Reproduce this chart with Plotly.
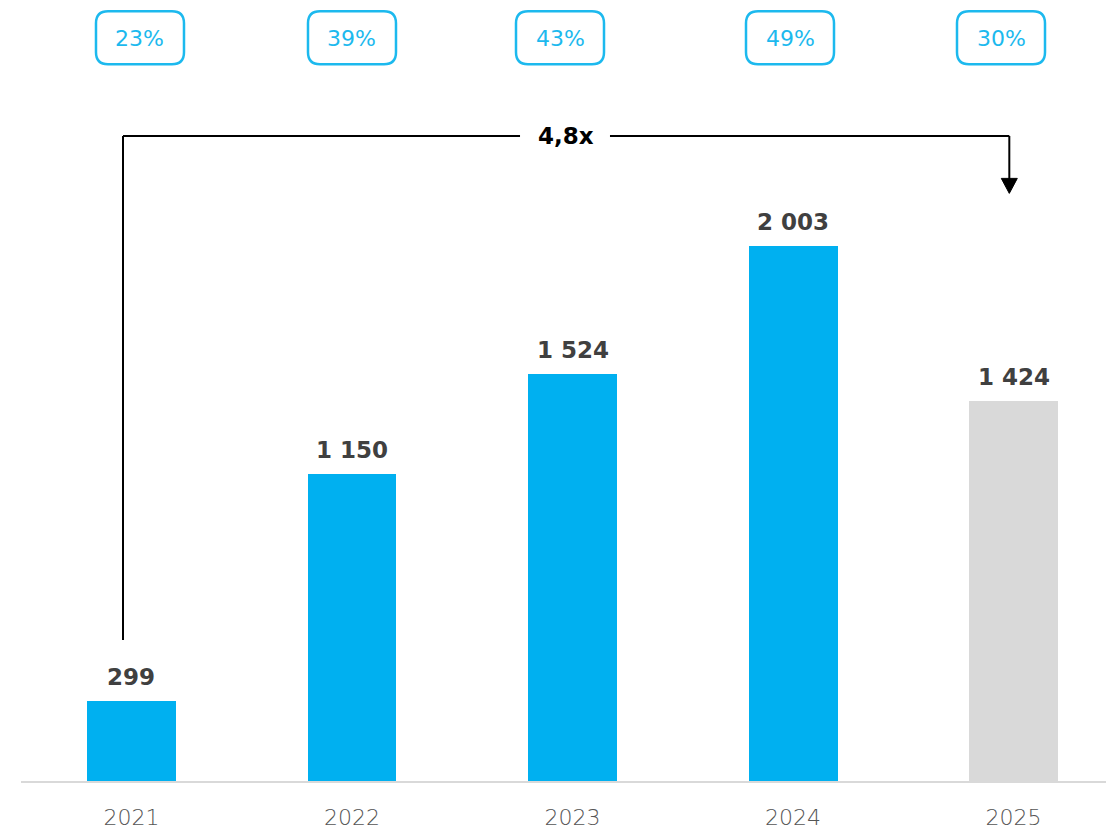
import plotly.graph_objects as go

# ---- data ----
years = ["2021", "2022", "2023", "2024", "2025"]
values = [299, 1150, 1524, 2003, 1424]
value_labels = ["299", "1 150", "1 524", "2 003", "1 424"]
shares = ["23%", "39%", "43%", "49%", "30%"]
bar_colors = ["#00B0F0", "#00B0F0", "#00B0F0", "#00B0F0", "#D9D9D9"]
growth_label = "4,8x"

FONT = "DejaVu Sans"
BLUE_BOX = "#1CB9EE"

fig = go.Figure()
xs = list(range(len(years)))
fig.add_trace(go.Bar(
    x=xs, y=values, width=0.4036,
    marker=dict(color=bar_colors, line=dict(width=0)),
    hoverinfo="skip", showlegend=False,
))

annotations = []
shapes = []

# value labels above bars
for i, (v, lab) in enumerate(zip(values, value_labels)):
    annotations.append(dict(
        x=i, y=v, xref="x", yref="y", text=lab, showarrow=False,
        yanchor="bottom", yshift=9,
        font=dict(family=FONT, size=23, color="#404040", weight=700),
    ))

# percentage boxes at the top
box_y = 2783
box_dx = [8.5, 0, -12.5, -3, -12.5]  # pixel offsets of boxes
hw, hh, r = 44, 26.5, 12
for i, s in enumerate(shares):
    dx = box_dx[i]
    path = (f"M {-hw + r + dx},{hh} L {hw - r + dx},{hh} Q {hw + dx},{hh} {hw + dx},{hh - r} "
            f"L {hw + dx},{-hh + r} Q {hw + dx},{-hh} {hw - r + dx},{-hh} "
            f"L {-hw + r + dx},{-hh} Q {-hw + dx},{-hh} {-hw + dx},{-hh + r} "
            f"L {-hw + dx},{hh - r} Q {-hw + dx},{hh} {-hw + r + dx},{hh} Z")
    shapes.append(dict(
        type="path", xref="x", yref="y", xsizemode="pixel", ysizemode="pixel",
        xanchor=i, yanchor=box_y, path=path,
        line=dict(color=BLUE_BOX, width=2.5), fillcolor="rgba(0,0,0,0)",
    ))
    annotations.append(dict(
        x=i, y=box_y, xref="x", yref="y", text=s, showarrow=False,
        xshift=dx, yshift=-1,
        font=dict(family=FONT, size=22, color=BLUE_BOX, weight=500),
    ))

# growth bracket
yb = 2415
x_left, x_right = -0.0385, 3.981
gap_l, gap_r, lab_x = 1.762, 2.170, 1.970
line = dict(color="#000000", width=2)
shapes += [
    dict(type="line", xref="x", yref="y", x0=x_left, x1=x_left, y0=528, y1=yb, line=line),
    dict(type="line", xref="x", yref="y", x0=x_left, x1=gap_l, y0=yb, y1=yb, line=line),
    dict(type="line", xref="x", yref="y", x0=gap_r, x1=x_right, y0=yb, y1=yb, line=line),
    dict(type="line", xref="x", yref="y", x0=x_right, x1=x_right, y0=yb, y1=2245, line=line),
    dict(type="path", xref="x", yref="y", xsizemode="pixel", ysizemode="pixel",
         xanchor=x_right, yanchor=2200, path="M -8,15 L 8,15 L 0,0 Z",
         fillcolor="#000000", line=dict(color="#000000", width=1)),
]
annotations.append(dict(
    x=lab_x, y=yb, xref="x", yref="y", text=growth_label, showarrow=False,
    font=dict(family=FONT, size=23, color="#000000", weight=700),
))

fig.update_layout(
    width=1106, height=829,
    margin=dict(l=21, r=0, t=0, b=48),
    paper_bgcolor="white", plot_bgcolor="white",
    bargap=0,
    xaxis=dict(
        range=[-0.5011, 4.4195], tickmode="array", tickvals=xs, ticktext=years,
        showgrid=False, zeroline=False, showline=True, linecolor="#D9D9D9", linewidth=2,
        ticks="", ticklabelstandoff=16,
        tickfont=dict(family=FONT, size=22, color="#555555", weight=200),
        fixedrange=True,
    ),
    yaxis=dict(range=[0, 2924], visible=False, fixedrange=True),
    shapes=shapes, annotations=annotations,
    showlegend=False,
)

fig.write_html(
    "out.html",
    config={"displayModeBar": False},
    post_script="document.body.style.margin='0';document.body.style.overflow='hidden';",
)
